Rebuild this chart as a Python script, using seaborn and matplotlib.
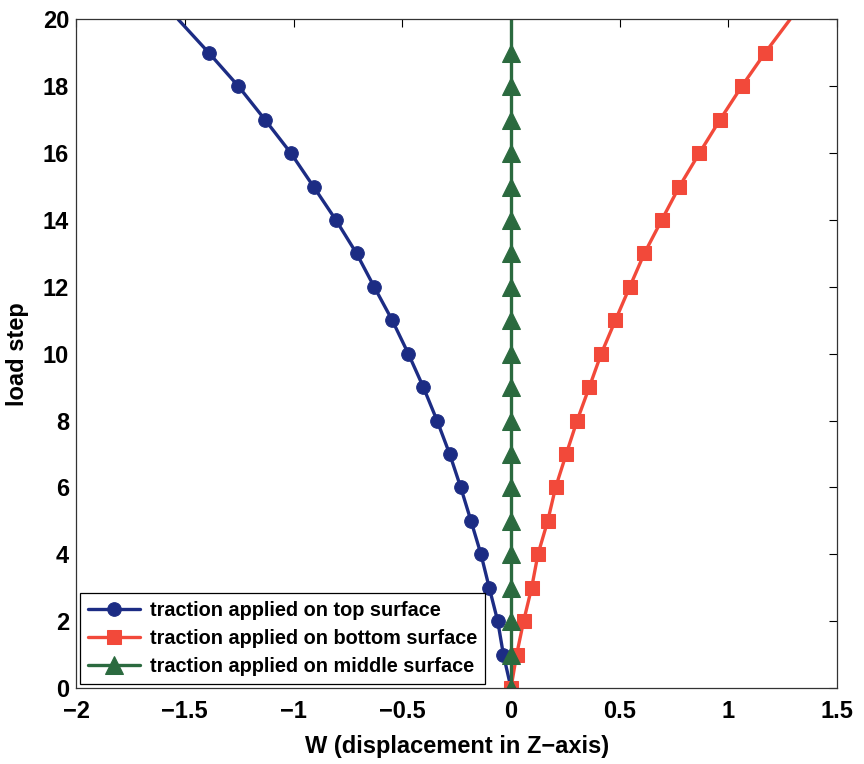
import numpy as np
import pandas as pd
import matplotlib
matplotlib.use("Agg")
import matplotlib.pyplot as plt
import seaborn as sns

# Load steps 0..20
load_step = list(range(21))

# Vertical displacement W for each loading case
w_top = [0.0, -0.035, -0.061, -0.100, -0.138, -0.184, -0.231, -0.282, -0.340, -0.403,
         -0.472, -0.546, -0.629, -0.710, -0.805, -0.908, -1.012, -1.131, -1.253, -1.389,
         -1.530]
w_bottom = [0.0, 0.026, 0.058, 0.095, 0.124, 0.169, 0.205, 0.254, 0.304, 0.360,
            0.415, 0.480, 0.546, 0.613, 0.693, 0.774, 0.866, 0.961, 1.061, 1.168,
            1.283]
w_middle = [0.0] * 21

labels = ["traction applied on top surface",
          "traction applied on bottom surface",
          "traction applied on middle surface"]

x_ticks = [-2, -1.5, -1, -0.5, 0, 0.5, 1, 1.5]
x_tick_labels = ["\u22122", "\u22121.5", "\u22121", "\u22120.5", "0", "0.5", "1", "1.5"]
y_ticks = list(range(0, 21, 2))

sns.set_theme(style="white")
plt.rcParams["font.family"] = ["Liberation Sans", "DejaVu Sans"]
plt.rcParams["font.weight"] = "bold"
plt.rcParams["text.color"] = "black"
plt.rcParams["axes.labelcolor"] = "black"

fig = plt.figure(figsize=(8.64, 7.64), dpi=100)
ax = fig.add_axes([0.088, 0.0995, 0.881, 0.875])

series = [
    (w_top, labels[0], "#1c2c84", "o", 9.8),
    (w_bottom, labels[1], "#f2493a", "s", 10),
    (w_middle, labels[2], "#2b6a3f", "^", 12.5),
]
for w, lab, col, mk, ms in series:
    df = pd.DataFrame({"W": w, "step": load_step})
    sns.lineplot(data=df, x="W", y="step", sort=False, estimator=None,
                 orient="y", ax=ax, color=col,
                 linewidth=2.4, marker=mk, markersize=ms, markeredgecolor=col,
                 markerfacecolor=col, markevery=slice(0, 20), label=lab)

ax.set_xlim(-2, 1.5)
ax.set_ylim(0, 20)
ax.set_xticks(x_ticks)
ax.set_xticklabels(x_tick_labels)
ax.set_yticks(y_ticks)
ax.tick_params(axis="both", which="both", direction="in", length=6, width=0.8,
               top=True, right=True, labelsize=17, colors="black")
ax.tick_params(axis="x", pad=9)
ax.tick_params(axis="y", pad=5)
for lbl in ax.get_xticklabels() + ax.get_yticklabels():
    lbl.set_fontweight("bold")
for sp in ax.spines.values():
    sp.set_color("#333333")
    sp.set_linewidth(0.9)

ax.set_xlabel("W (displacement in Z\u2212axis)", fontsize=17, fontweight="bold", labelpad=8)
ax.set_ylabel("load step", fontsize=17, fontweight="bold", labelpad=10)

leg = ax.legend(loc="lower left", fontsize=14.3, frameon=True, fancybox=False,
                framealpha=1, edgecolor="black", handlelength=2.6,
                borderaxespad=0.2, borderpad=0.4, labelspacing=0.45,
                handletextpad=0.5)
leg.get_frame().set_linewidth(0.9)
for t in leg.get_texts():
    t.set_fontweight("bold")
    t.set_color("black")

fig.savefig("out.png", dpi=100, facecolor="white")
